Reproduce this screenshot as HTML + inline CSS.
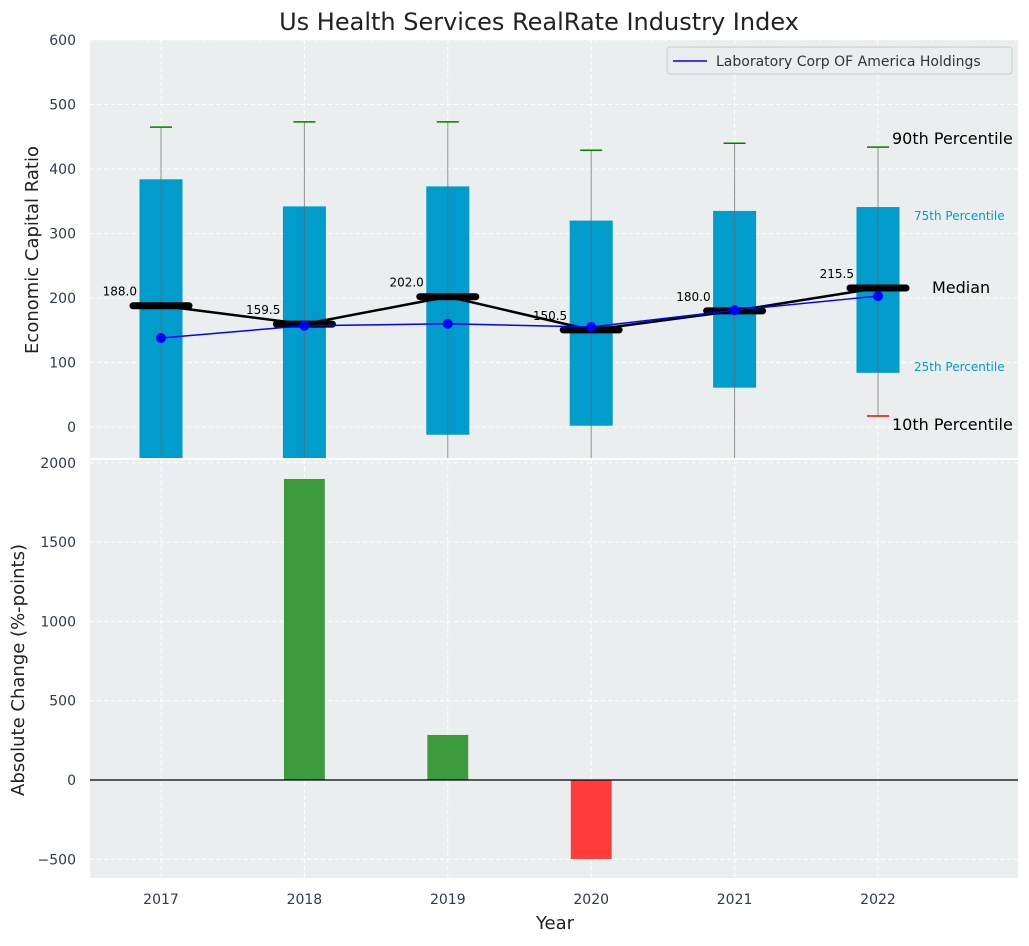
<!DOCTYPE html>
<html><head><meta charset="utf-8"><style>
body{margin:0;background:#fff;font-family:"DejaVu Sans","Liberation Sans",sans-serif}
svg text{font-family:"DejaVu Sans","Liberation Sans",sans-serif}
</style></head><body>
<svg id="c" width="1029" height="942" xmlns="http://www.w3.org/2000/svg"></svg>
<script>
const years=[2017,2018,2019,2020,2021,2022];
const p10=[-200,-200,-200,-200,-200,17];
const p25=[-100,-100,-12,2,61,84];
const p75=[384,342,373,320,335,341];
const p90=[465,473,473,429,440,434];
const medians=[188,159.5,202,150.5,180,215.5];
const company=[138,157,160,155,181,203];
const changes=[0,1898,284,-498,0,0];
const topTicks=[0,100,200,300,400,500,600];
const botTicks=[-500,0,500,1000,1500,2000];

const NS="http://www.w3.org/2000/svg";
const svg=document.getElementById('c');
function el(t,a,p){const e=document.createElementNS(NS,t);for(const k in a)e.setAttribute(k,a[k]);(p||svg).appendChild(e);return e;}
const X0=90,X1=1018;
const UNIT=143.4;
const xs=v=>161+(v-2017)*UNIT;
const T0=40,T1=458,ys=v=>427-v*0.645;
const B0=460,B1=878,yb=v=>780-v*0.1586;

let e=el('rect',{x:X0,y:T0,width:X1-X0,height:T1-T0,fill:'#eaeeee'});

e=el('rect',{x:X0,y:B0,width:X1-X0,height:B1-B0,fill:'#eaeeee'});


const defs=el('defs',{});
const cp=el('clipPath',{id:'ct'},defs);el('rect',{x:X0,y:T0,width:X1-X0,height:T1-T0},cp);
const cb=el('clipPath',{id:'cb'},defs);el('rect',{x:X0,y:B0,width:X1-X0,height:B1-B0},cb);
const gt=el('g',{'clip-path':'url(#ct)'});
const gb=el('g',{'clip-path':'url(#cb)'});

years.forEach(y=>{
  el('line',{x1:xs(y),x2:xs(y),y1:T0,y2:T1,stroke:'#fff','stroke-dasharray':'4,3','stroke-width':1},gt);
  el('line',{x1:xs(y),x2:xs(y),y1:B0,y2:B1,stroke:'#fff','stroke-dasharray':'4,3','stroke-width':1},gb);
  const t=el('text',{x:xs(y),y:904,'text-anchor':'middle','font-size':14,fill:'#2e3b4e'});t.textContent=y;
  
});
topTicks.forEach(v=>{
  el('line',{x1:X0,x2:X1,y1:ys(v),y2:ys(v),stroke:'#fff','stroke-dasharray':'4,3'},gt);
  const t=el('text',{x:76,y:ys(v)+5,'text-anchor':'end','font-size':14,fill:'#2e3b4e'});t.textContent=v;
  
});
botTicks.forEach(v=>{
  el('line',{x1:X0,x2:X1,y1:yb(v),y2:yb(v),stroke:'#fff','stroke-dasharray':'4,3'},gb);
  const t=el('text',{x:76,y:yb(v)+5,'text-anchor':'end','font-size':14,fill:'#2e3b4e'});t.textContent=(v<0?'\u2212'+(-v):v);
  
});

const bw=0.3*UNIT;
years.forEach((y,i)=>{
  const x=xs(y);
  const r=el('rect',{x:x-bw/2,y:ys(p75[i]),width:bw,height:ys(p25[i])-ys(p75[i]),fill:'#009ccc'},gt);
  
  el('line',{x1:x,x2:x,y1:ys(p90[i]),y2:ys(p10[i]),stroke:'#666','stroke-opacity':0.7,'stroke-width':1},gt);
  el('line',{x1:x-11,x2:x+11,y1:ys(p90[i]),y2:ys(p90[i]),stroke:'green','stroke-width':1.5},gt);
  el('line',{x1:x-11,x2:x+11,y1:ys(p10[i]),y2:ys(p10[i]),stroke:'red','stroke-width':1.5},gt);
});
let d=years.map((y,i)=>(i?'L':'M')+xs(y)+','+ys(medians[i])).join(' ');
e=el('path',{d,fill:'none',stroke:'#000','stroke-width':2.5},gt);

years.forEach((y,i)=>{
  el('line',{x1:xs(y)-28,x2:xs(y)+28,y1:ys(medians[i]),y2:ys(medians[i]),stroke:'#000','stroke-width':7,'stroke-linecap':'round'},gt);
  const t=el('text',{x:xs(y)-24,y:ys(medians[i])-10,'text-anchor':'end','font-size':12,fill:'#000'},gt);
  t.textContent=medians[i].toFixed(1);
});
d=years.map((y,i)=>(i?'L':'M')+xs(y)+','+ys(company[i])).join(' ');
e=el('path',{d,fill:'none',stroke:'blue','stroke-width':1.5},gt);

years.forEach((y,i)=>{const c=el('circle',{cx:xs(y),cy:ys(company[i]),r:5,fill:'blue'},gt);
  });

const L=xs(2022);
[['90th Percentile',ys(p90[5])-3,16,'#000',L+14],['75th Percentile',ys(p75[5])+13,12,'#009ccc',L+36],['Median',ys(medians[5])+5,16,'#000',L+54],['25th Percentile',ys(p25[5])-2,12,'#009ccc',L+36],['10th Percentile',ys(p10[5])+14,16,'#000',L+14]].forEach(a=>{
  const t=el('text',{x:a[4],y:a[1],'font-size':a[2],fill:a[3]});t.textContent=a[0];
  
});

const bbw=0.285*UNIT;
years.forEach((y,i)=>{
  const v=changes[i];if(!v)return;
  const r=el('rect',{x:xs(y)-bbw/2,y:Math.min(yb(v),yb(0)),width:bbw,height:Math.abs(yb(v)-yb(0)),fill:v>0?'#3d9a3d':'#fe3c3c'},gb);
  
});
el('line',{x1:X0,x2:X1,y1:yb(0),y2:yb(0),stroke:'#000','stroke-width':1.2},gb);

const lg=el('g',{});
el('rect',{x:667,y:47,width:345,height:27,rx:3,fill:'#eaeeee',stroke:'#ccc'},lg);
el('line',{x1:673,x2:707,y1:61,y2:61,stroke:'blue','stroke-width':1.5},lg);
let t=el('text',{x:716,y:66,'font-size':14,fill:'#333'},lg);t.textContent='Laboratory Corp OF America Holdings';

t=el('text',{x:539,y:30,'text-anchor':'middle','font-size':24,fill:'#222'});t.textContent='Us Health Services RealRate Industry Index';

t=el('text',{x:555,y:929,'text-anchor':'middle','font-size':18,fill:'#222'});t.textContent='Year';

t=el('text',{x:38,y:250,'text-anchor':'middle','font-size':18,fill:'#222',transform:'rotate(-90 38 250)'});t.textContent='Economic Capital Ratio';

t=el('text',{x:24,y:670,'text-anchor':'middle','font-size':18,fill:'#222',transform:'rotate(-90 24 670)'});t.textContent='Absolute Change (%-points)';

</script></body></html>
